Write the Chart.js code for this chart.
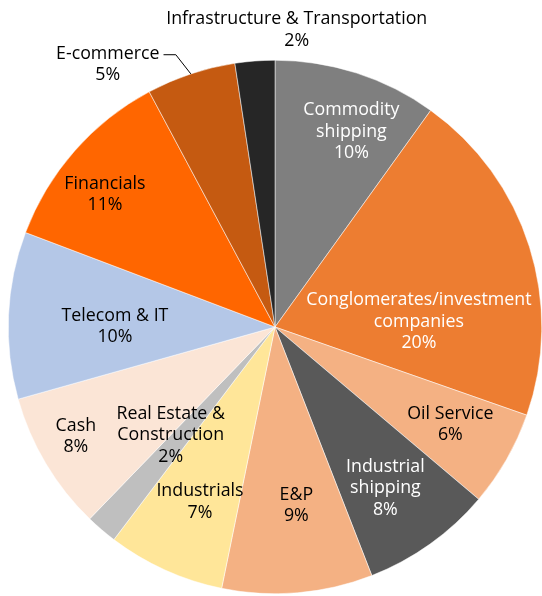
<!DOCTYPE html>
<html>
<head>
<meta charset="utf-8">
<script src="https://cdn.jsdelivr.net/npm/chart.js"></script>
<style>
body { margin:0; background:#fff }
#wrap { width:542px; height:596px; position:relative }
</style>
</head>
<body>
<div id="wrap"><canvas id="chart"></canvas></div>
<script>
// ===== DATA =====
const categories = [
  ["Commodity", "shipping"],
  ["Conglomerates/investment", "companies"],
  ["Oil Service"],
  ["Industrial", "shipping"],
  ["E&P"],
  ["Industrials"],
  ["Real Estate &", "Construction"],
  ["Cash"],
  ["Telecom & IT"],
  ["Financials"],
  ["E-commerce"],
  ["Infrastructure & Transportation"]
];
const shares = [9.9, 20.4, 5.8, 7.9, 9.1, 7.1, 1.9, 8.4, 10.1, 11.4, 5.4, 2.4];

// ===== STYLE =====
const colors = ["#7F7F7F", "#ED7D31", "#F4B183", "#595959", "#F4B183", "#FFE699",
                "#BFBFBF", "#FBE5D6", "#B4C7E7", "#FF6600", "#C55A11", "#262626"];
const textColors = ["#fff", "#fff", "#000", "#fff", "#000", "#000",
                    "#000", "#000", "#000", "#000", "#000", "#000"];
// label placement: radius as fraction of the pie radius, angle shift from slice middle (deg)
const labelRadius = [0.79, 0.54, 0.75, 0.73, 0.67, 0.71, 0.56, 0.85, 0.60, 0.81, 1.17, 1.12];
const labelShift  = [3.4, 14.9, -1, 1, -2, -1, 3.7, 2.3, -1.9, -3.2, -14, 8.5];
const leader = [false, false, false, false, false, false, false, false, false, false, true, false];

const FONT = '17.8px "Open Sans"';
const LINE_H = 21.5;

const labelPlugin = {
  id: 'sliceLabels',
  afterDatasetsDraw(chart) {
    const ctx = chart.ctx;
    const meta = chart.getDatasetMeta(0);
    ctx.save();
    ctx.font = FONT;
    ctx.textAlign = 'center';
    ctx.textBaseline = 'middle';
    meta.data.forEach((arc, i) => {
      const p = arc.getProps(['x', 'y', 'startAngle', 'endAngle', 'outerRadius'], true);
      const mid = (p.startAngle + p.endAngle) / 2;
      const a = mid + labelShift[i] * Math.PI / 180;
      const r = p.outerRadius * labelRadius[i];
      const cx = p.x + Math.cos(a) * r;
      const cy = p.y + Math.sin(a) * r;
      const lines = categories[i].concat([Math.round(shares[i]) + '%']);
      const top = cy - (lines.length - 1) * LINE_H / 2;

      if (leader[i]) {
        const ex = p.x + Math.cos(mid) * p.outerRadius;
        const ey = p.y + Math.sin(mid) * p.outerRadius;
        const w = ctx.measureText(lines[0]).width;
        ctx.strokeStyle = '#000';
        ctx.lineWidth = 1;
        ctx.beginPath();
        ctx.moveTo(ex, ey);
        ctx.lineTo(ex - 15, top + 2);
        ctx.lineTo(cx + w / 2 + 4, top + 2);
        ctx.stroke();
      }

      ctx.fillStyle = textColors[i];
      lines.forEach((t, k) => ctx.fillText(t, cx, top + 1 + k * LINE_H));
    });
    ctx.restore();
  }
};

new Chart(document.getElementById('chart'), {
  type: 'pie',
  data: {
    labels: categories.map(c => c.join(' ')),
    datasets: [{
      data: shares,
      backgroundColor: colors,
      borderColor: '#fff',
      borderWidth: 0.5
    }]
  },
  options: {
    responsive: true,
    maintainAspectRatio: false,
    animation: false,
    layout: { padding: { top: 60, left: 8, right: 0, bottom: 2 } },
    plugins: {
      legend: { display: false },
      tooltip: { enabled: false }
    }
  },
  plugins: [labelPlugin]
});
</script>
</body>
</html>
